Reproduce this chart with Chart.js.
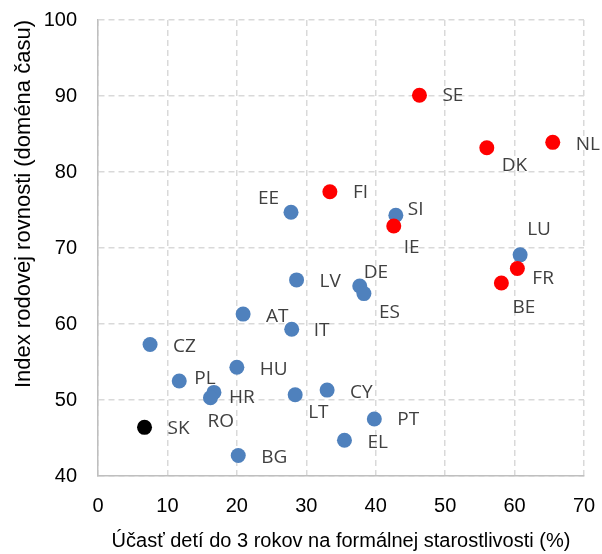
<!DOCTYPE html>
<html>
<head>
<meta charset="utf-8">
<script src="https://cdn.jsdelivr.net/npm/chart.js@4/dist/chart.umd.min.js"></script>
<style>
    html, body { margin: 0; padding: 0; background: #fff; }
    #wrap { width: 602px; height: 554px; }
</style>
</head>
<body>
<div id="wrap"><canvas id="scatterChart"></canvas></div>
<script>
// === DATA ===
const blueCodes = ['EE', 'SI', 'LU', 'DE', 'ES', 'LV', 'AT', 'IT', 'CZ', 'HU', 'PL', 'HR', 'RO', 'LT', 'CY', 'PT', 'EL', 'BG'];
const blueX = [27.8, 42.9, 60.8, 37.7, 38.3, 28.6, 20.9, 27.9, 7.5, 20.0, 11.7, 16.7, 16.2, 28.4, 33.0, 39.8, 35.5, 20.2];
const blueY = [74.7, 74.3, 69.1, 65.0, 64.0, 65.8, 61.3, 59.3, 57.3, 54.3, 52.5, 51.0, 50.3, 50.7, 51.3, 47.5, 44.7, 42.7];

const redCodes = ['SE', 'DK', 'NL', 'FI', 'IE', 'FR', 'BE'];
const redX = [46.3, 56.0, 65.5, 33.4, 42.6, 60.4, 58.1];
const redY = [90.1, 83.2, 83.9, 77.4, 72.9, 67.3, 65.4];

const blackCodes = ['SK'];
const blackX = [6.7];
const blackY = [46.4];

const xTicks = [0, 10, 20, 30, 40, 50, 60, 70];
const yTicks = [40, 50, 60, 70, 80, 90, 100];

const xTitle = 'Účasť detí do 3 rokov na formálnej starostlivosti (%)';
const yTitle = 'Index rodovej rovnosti (doména času)';

// label placement relative to the point: [dx, dy, align]
const labelOffsets = {
    SE: [23, 0, 'left'], DK: [15, 18, 'left'], NL: [23, 2, 'left'], FI: [23, 1, 'left'],
    SI: [12, -6, 'left'], IE: [10, 22, 'left'], EE: [-12, -14, 'right'], LU: [7, -25, 'left'],
    FR: [15, 10, 'left'], BE: [11, 25, 'left'], DE: [4, -13, 'left'], ES: [15, 19, 'left'],
    CY: [23, 2, 'left'], PT: [23, 1, 'left'], EL: [23, 2, 'left'], LV: [23, 2, 'left'],
    AT: [23, 2, 'left'], IT: [22, 1, 'left'], CZ: [23, 2, 'left'], HU: [23, 2, 'left'],
    PL: [15, -2, 'left'], HR: [15, 5, 'left'], RO: [-3, 24, 'left'], LT: [13, 18, 'left'],
    SK: [23, 1, 'left'], BG: [23, 2, 'left']
};

function toPoints(xs, ys) {
    return xs.map(function(x, i) { return { x: x, y: ys[i] }; });
}

// draws the country codes next to each point
const pointLabels = {
    id: 'pointLabels',
    afterDatasetsDraw: function(chart) {
        const ctx = chart.ctx;
        const xs = chart.scales.x, ys = chart.scales.y;
        ctx.save();
        ctx.font = "19px 'Open Sans', sans-serif";
        ctx.fillStyle = '#404040';
        ctx.textBaseline = 'middle';
        chart.data.datasets.forEach(function(ds) {
            ds.data.forEach(function(p, i) {
                const code = ds.codes[i];
                const off = labelOffsets[code] || [20, 0, 'left'];
                ctx.textAlign = off[2];
                ctx.fillText(code, xs.getPixelForValue(p.x) + off[0], ys.getPixelForValue(p.y) + off[1]);
            });
        });
        ctx.restore();
    }
};

const tickFont = { family: "'Liberation Sans', Arial, sans-serif", size: 20 };

new Chart(document.getElementById('scatterChart'), {
    type: 'scatter',
    data: {
        datasets: [{
            label: 'red',
            codes: redCodes,
            data: toPoints(redX, redY),
            backgroundColor: '#FF0000',
            pointRadius: 7.5,
            pointBorderWidth: 0,
            order: 0
        }, {
            label: 'blue',
            codes: blueCodes,
            data: toPoints(blueX, blueY),
            backgroundColor: '#4F81BD',
            pointRadius: 7.5,
            pointBorderWidth: 0,
            order: 1
        }, {
            label: 'black',
            codes: blackCodes,
            data: toPoints(blackX, blackY),
            backgroundColor: '#000000',
            pointRadius: 7.5,
            pointBorderWidth: 0,
            order: 2
        }]
    },
    options: {
        responsive: true,
        maintainAspectRatio: false,
        animation: false,
        events: [],
        layout: { padding: { left: 0, right: 18, top: 20, bottom: 0 } },
        plugins: {
            legend: { display: false },
            tooltip: { enabled: false }
        },
        scales: {
            x: {
                type: 'linear',
                min: 0,
                max: 70,
                afterBuildTicks: function(scale) { scale.ticks = xTicks.map(function(v) { return { value: v }; }); },
                afterFit: function(scale) { scale.height = 78; },
                // invisible ticks give the gap between axis and labels
                grid: { color: '#D9D9D9', lineWidth: 1.5, drawTicks: true, tickLength: 18, tickColor: 'rgba(0,0,0,0)' },
                border: { color: '#BFBFBF', width: 1.5, dash: [6, 4] },
                ticks: { color: '#000', font: tickFont, padding: 0, maxRotation: 0 },
                title: {
                    display: true,
                    text: xTitle,
                    color: '#000',
                    font: tickFont,
                    padding: { top: 0, bottom: 1 }
                }
            },
            y: {
                type: 'linear',
                min: 40,
                max: 100,
                afterBuildTicks: function(scale) { scale.ticks = yTicks.map(function(v) { return { value: v }; }); },
                afterFit: function(scale) { scale.width = 98; },
                grid: { color: '#D9D9D9', lineWidth: 1.5, drawTicks: true, tickLength: 21, tickColor: 'rgba(0,0,0,0)' },
                border: { color: '#BFBFBF', width: 1.5, dash: [6, 4] },
                ticks: { color: '#000', font: tickFont, padding: 0 },
                title: {
                    display: true,
                    text: yTitle,
                    color: '#000',
                    font: { family: "'Liberation Sans', Arial, sans-serif", size: 22 },
                    align: 'end',
                    padding: { top: 11, bottom: 0 }
                }
            }
        }
    },
    plugins: [pointLabels]
});
</script>
</body>
</html>
